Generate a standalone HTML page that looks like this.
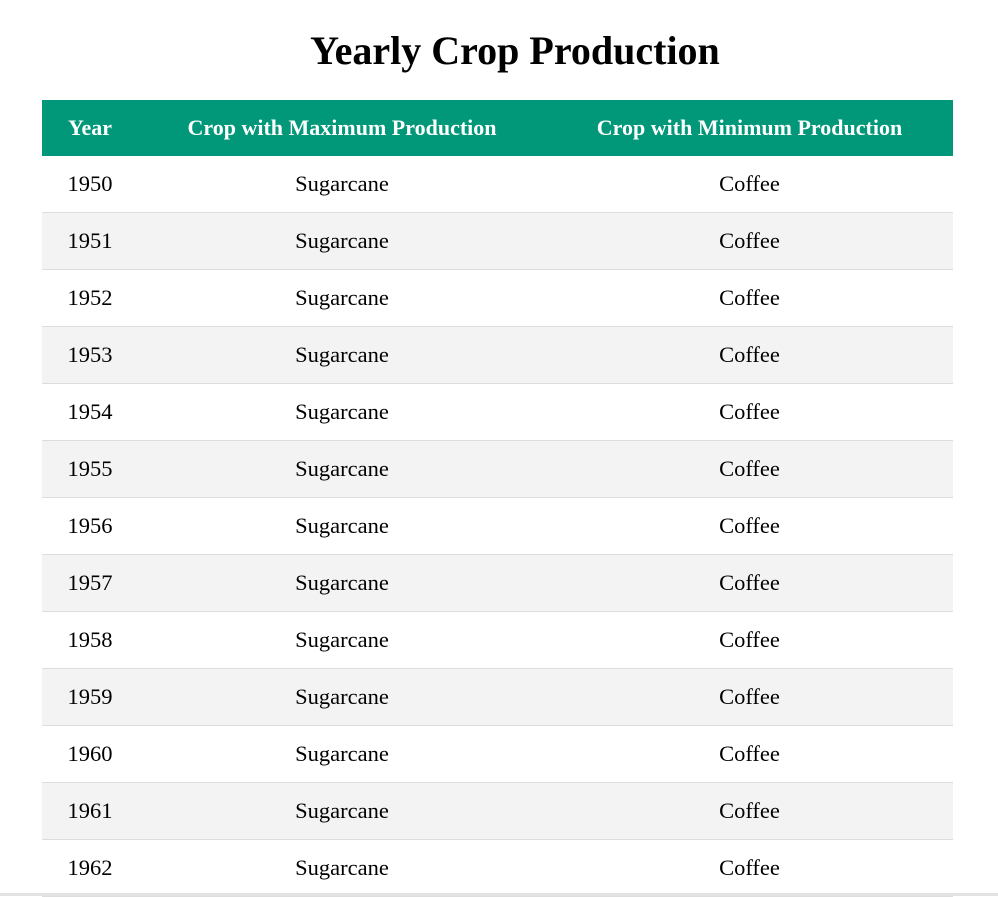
<!DOCTYPE html>
<html><head><meta charset="utf-8"><style>
body{margin:0;width:998px;height:896px;overflow:hidden;background:#fff;font-family:"Liberation Serif","Times New Roman",serif;position:relative}
h1{position:absolute;top:28px;left:0;width:1030px;margin:0;text-align:center;font-size:40px;line-height:46px;font-weight:bold}
table{position:absolute;left:42px;top:100px;width:911px;border-collapse:collapse;table-layout:fixed;font-size:22.5px}
th{background:#009879;color:#fff;height:56px;padding:0;font-weight:bold;text-align:center;font-size:22px}
td{height:56px;padding:0;text-align:center;border-bottom:1px solid #dddddd}
tr.alt td{background:#f3f3f3}
.bar{position:absolute;left:0;top:893px;width:998px;height:3px;background:#e3e3e3}
</style></head><body>
<h1>Yearly Crop Production</h1>
<table>
<colgroup><col style="width:96px"><col style="width:408px"><col style="width:407px"></colgroup>
<thead><tr><th>Year</th><th>Crop with Maximum Production</th><th>Crop with Minimum Production</th></tr></thead>
<tbody id="tb"></tbody></table>
<div class="bar"></div>
<script>
const years=[1950,1951,1952,1953,1954,1955,1956,1957,1958,1959,1960,1961,1962];
const maxCrops=["Sugarcane","Sugarcane","Sugarcane","Sugarcane","Sugarcane","Sugarcane","Sugarcane","Sugarcane","Sugarcane","Sugarcane","Sugarcane","Sugarcane","Sugarcane"];
const minCrops=["Coffee","Coffee","Coffee","Coffee","Coffee","Coffee","Coffee","Coffee","Coffee","Coffee","Coffee","Coffee","Coffee"];
const tb=document.getElementById('tb');
years.forEach((y,i)=>{
const tr=document.createElement('tr');


if(i%2)tr.className='alt';
[y,maxCrops[i],minCrops[i]].forEach((v,j)=>{
const td=document.createElement('td');


td.textContent=v;tr.appendChild(td);});
tb.appendChild(tr);});
</script>
</body></html>
